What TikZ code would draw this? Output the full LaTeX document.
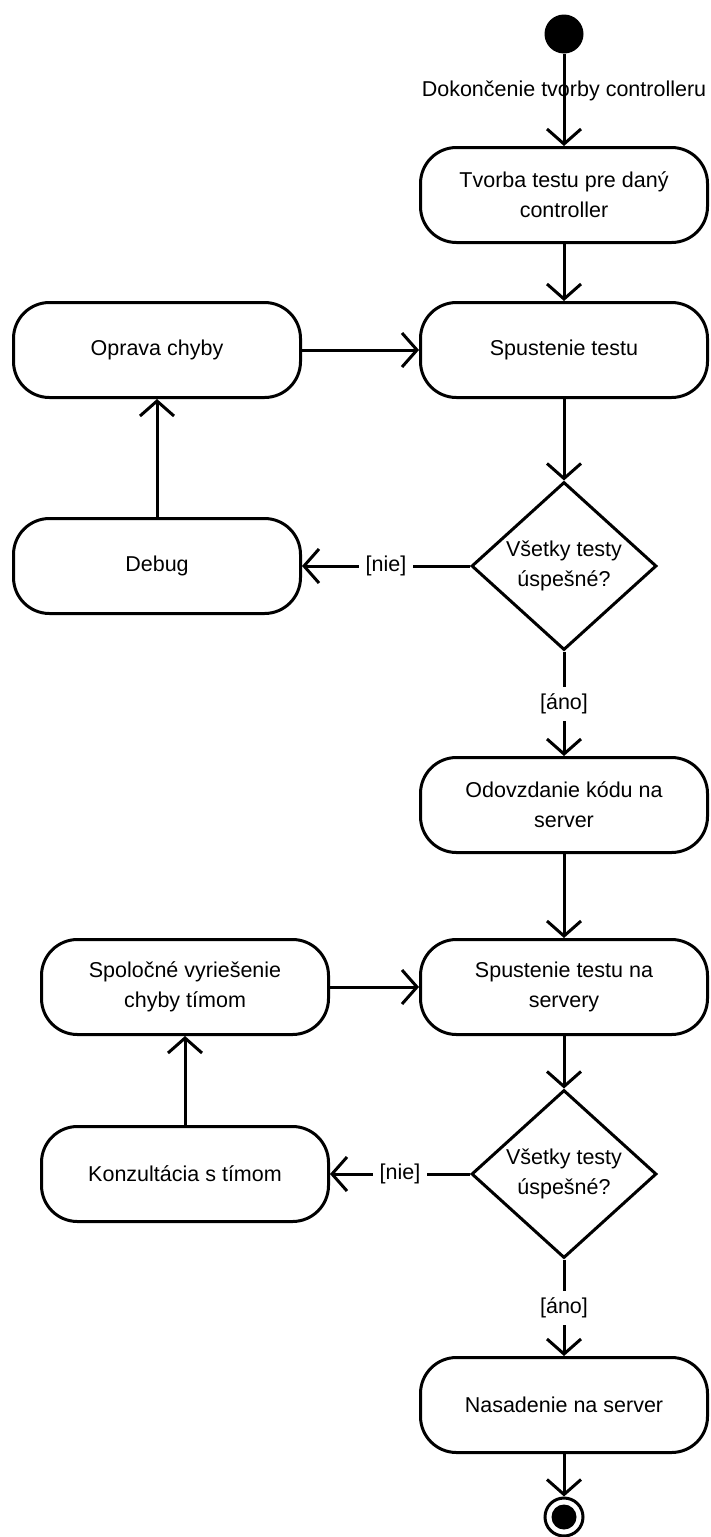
\documentclass[tikz,border=0pt]{standalone}
\usepackage{fontspec}
\setmainfont{Liberation Sans}
\usetikzlibrary{shapes.geometric,arrows.meta}

\begin{document}
\begin{tikzpicture}[x=1pt,y=-1pt,
  every node/.style={font=\fontsize{21.5}{30}\selectfont},
  activity/.style={draw,line width=3pt,rounded corners=36pt,minimum width=287pt,minimum height=95pt,align=center,inner sep=0pt},
  decision/.style={draw,diamond,line width=3pt,minimum width=185pt,minimum height=168pt,align=center,inner sep=0pt},
  flow/.style={line width=3pt,-{Straight Barb[length=15pt,width=34pt]}},
  guard/.style={fill=white,inner sep=7pt}]

\useasboundingbox (0,0) rectangle (710,1537);

\node[circle,fill,minimum size=39pt,inner sep=0pt] (zaciatok) at (564,34) {};
\node[activity] (tvorba) at (564,195) {Tvorba testu pre daný\\controller};
\node[activity] (spustenie) at (564,350) {Spustenie testu};
\node[activity] (oprava) at (157,350) {Oprava chyby};
\node[decision] (test1) at (564,566) {Všetky testy\\úspešné?};
\node[activity] (debug) at (157,566) {Debug};

\node[activity] (odovzdanie) at (564,805) {Odovzdanie kódu na\\server};
\node[activity] (server) at (564,987) {Spustenie testu na\\servery};
\node[activity] (spolocne) at (185,987) {Spoločné vyriešenie\\chyby tímom};
\node[decision] (test2) at (564,1174) {Všetky testy\\úspešné?};
\node[activity] (konzultacia) at (185,1174) {Konzultácia s tímom};
\node[activity] (nasadenie) at (564,1405) {Nasadenie na server};
\node[circle,draw,line width=3pt,minimum size=38pt,inner sep=0pt] (koniec) at (564,1517) {};
\fill (koniec) circle (12.5pt);

% prvy cyklus
\draw[flow] (zaciatok) -- node[pos=0.4]{Dokončenie tvorby controlleru} (tvorba);
\draw[flow] (tvorba) -- (spustenie);
\draw[flow] (oprava) -- (spustenie);
\draw[flow] (spustenie) -- (test1);
\draw[flow] (test1) -- node[guard]{[nie]} (debug);
\draw[flow] (debug) -- (oprava);
\draw[flow] (test1) -- node[guard]{[áno]} (odovzdanie);

% druhy cyklus
\draw[flow] (odovzdanie) -- (server);
\draw[flow] (spolocne) -- (server);
\draw[flow] (server) -- (test2);
\draw[flow] (test2) -- node[guard]{[nie]} (konzultacia);
\draw[flow] (konzultacia) -- (spolocne);
\draw[flow] (test2) -- node[guard]{[áno]} (nasadenie);
\draw[flow] (nasadenie) -- (koniec);

\end{tikzpicture}
\end{document}
